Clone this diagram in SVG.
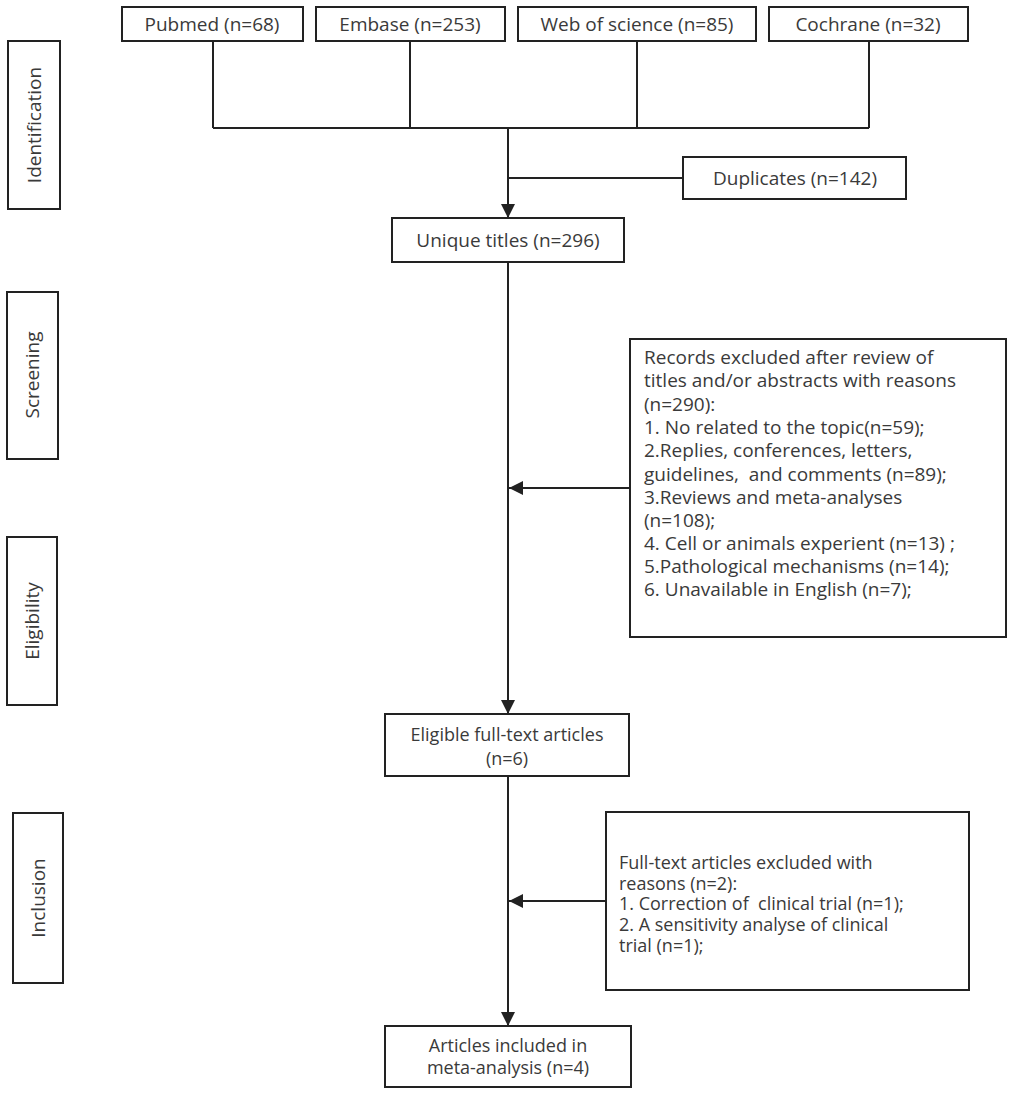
<svg xmlns="http://www.w3.org/2000/svg" width="1013" height="1094" viewBox="0 0 1013 1094">
<style>
.box{fill:#fff;stroke:#222;stroke-width:2}
.t{font-family:"Open Sans","Noto Sans",sans-serif;font-size:19px;fill:#3a3a3a;white-space:pre}
.s{font-size:18px}
.c{text-anchor:middle}
.ln{fill:none;stroke:#222;stroke-width:2}
</style>
<defs>
<marker id="ah" viewBox="0 0 10 10" refX="10" refY="5" markerWidth="14" markerHeight="14" markerUnits="userSpaceOnUse" orient="auto">
<path d="M0,0 L10,5 L0,10 Z" fill="#222"/>
</marker>
</defs>
<rect width="1013" height="1094" fill="#fff"/>
<g id="connectors">
<path class="ln" d="M213,41 V128 M410,41 V128 M637,41 V128 M869,41 V128 M213,128 H869"/>
<path class="ln" d="M683,178 H508"/>
<path class="ln" d="M508,128 V218" marker-end="url(#ah)"/>
<path class="ln" d="M508,262 V714" marker-end="url(#ah)"/>
<path class="ln" d="M630,488 H509" marker-end="url(#ah)"/>
<path class="ln" d="M508,776 V1026" marker-end="url(#ah)"/>
<path class="ln" d="M606,901 H509" marker-end="url(#ah)"/>
</g>
<g id="identification"><rect class="box" x="8" y="41" width="52" height="168"/><text class="t c" transform="translate(41,125) rotate(-90)">Identification</text></g>
<g id="screening"><rect class="box" x="7" y="292" width="51" height="167"/><text class="t c" transform="translate(39,375) rotate(-90)">Screening</text></g>
<g id="eligibility"><rect class="box" x="7" y="537" width="50" height="168"/><text class="t c" transform="translate(39,621) rotate(-90)">Eligibility</text></g>
<g id="inclusion"><rect class="box" x="13" y="813" width="50" height="170"/><text class="t c" transform="translate(45,898) rotate(-90)">Inclusion</text></g>
<g id="pubmed"><rect class="box" x="122" y="7" width="181" height="34"/><text class="t c" x="212" y="31">Pubmed (n=68)</text></g>
<g id="embase"><rect class="box" x="316" y="7" width="189" height="34"/><text class="t c" x="410" y="31">Embase (n=253)</text></g>
<g id="wos"><rect class="box" x="518" y="7" width="238" height="34"/><text class="t c" x="637" y="31">Web of science (n=85)</text></g>
<g id="cochrane"><rect class="box" x="769" y="7" width="199" height="34"/><text class="t c" x="868" y="31">Cochrane (n=32)</text></g>
<g id="duplicates"><rect class="box" x="683" y="157" width="223" height="42"/><text class="t c" x="795" y="185">Duplicates (n=142)</text></g>
<g id="unique"><rect class="box" x="392" y="218" width="232" height="44"/><text class="t c" x="508" y="247">Unique titles (n=296)</text></g>
<g id="records"><rect class="box" x="630" y="339" width="376" height="298"/>
<text class="t" x="644" y="364">Records excluded after review of</text>
<text class="t" x="644" y="387">titles and/or abstracts with reasons</text>
<text class="t" x="644" y="411">(n=290):</text>
<text class="t" x="644" y="434">1. No related to the topic(n=59);</text>
<text class="t" x="644" y="457">2.Replies, conferences, letters,</text>
<text class="t" x="644" y="481">guidelines,  and comments (n=89);</text>
<text class="t" x="644" y="504">3.Reviews and meta-analyses</text>
<text class="t" x="644" y="527">(n=108);</text>
<text class="t" x="644" y="550">4. Cell or animals experient (n=13) ;</text>
<text class="t" x="644" y="573">5.Pathological mechanisms (n=14);</text>
<text class="t" x="644" y="596">6. Unavailable in English (n=7);</text>
</g>
<g id="eligible"><rect class="box" x="385" y="714" width="244" height="62"/><text class="t s c" x="507" y="741">Eligible full-text articles</text><text class="t s c" x="507" y="765">(n=6)</text></g>
<g id="fulltext"><rect class="box" x="606" y="812" width="363" height="178"/>
<text class="t s" x="619" y="869">Full-text articles excluded with</text>
<text class="t s" x="619" y="890">reasons (n=2):</text>
<text class="t s" x="619" y="910">1. Correction of  clinical trial (n=1);</text>
<text class="t s" x="619" y="931">2. A sensitivity analyse of clinical</text>
<text class="t s" x="619" y="952">trial (n=1);</text>
</g>
<g id="articles"><rect class="box" x="385" y="1026" width="246" height="61"/><text class="t s c" x="508" y="1052">Articles included in</text><text class="t s c" x="508" y="1074">meta-analysis (n=4)</text></g>
</svg>
